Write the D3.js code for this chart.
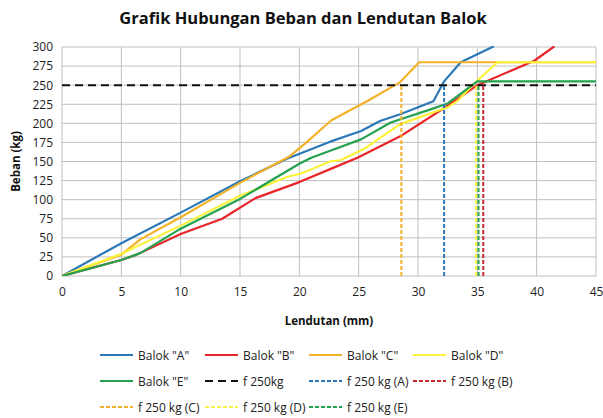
<!DOCTYPE html>
<html><head><meta charset="utf-8">
<script src="https://cdn.jsdelivr.net/npm/d3@7"></script>
<style>body{margin:0;background:#fff}svg{display:block}</style>
</head><body><div id="chart"></div>
<script>
const title = "Grafik Hubungan Beban dan Lendutan Balok";
const xLabel = "Lendutan (mm)";
const yLabel = "Beban (kg)";
const xTicks = [0,5,10,15,20,25,30,35,40,45];
const yTicks = [0,25,50,75,100,125,150,175,200,225,250,275,300];

const balokA = [[0,0],[5,43],[10,83],[15,124],[19,154],[22.6,176],[25.2,190],[26.8,203],[28.5,212],[31.3,229],[32.2,255],[33.6,280],[36.4,301]];
const balokB = [[0,0],[5,21],[6.3,28],[10,55],[13.5,75],[16.3,102],[20,123],[22.6,140],[24.9,155],[28.5,183],[32.5,223],[35,250],[39.8,282],[41.5,301]];
const balokC = [[0,0],[5,28],[6.6,48],[10,77],[15,122],[19.2,157],[20.6,175],[22.7,204],[25.7,229],[28.5,254],[30.1,280],[45,280]];
const balokD = [[0,0],[5,29],[10,66],[15,105],[19,130],[20.1,134],[22.6,150],[23.5,152],[25.4,166],[28.5,199],[32.5,221],[33.3,229],[35,256],[36.7,280],[45,280]];
const balokE = [[0,0],[5,21],[6.6,30],[10,62],[15,101],[20,147],[21,155],[22.6,164],[25.2,179],[27.7,201],[31,218],[32.5,226],[35,255],[45,255]];
const fLimit = 250;
const fA = 32.2, fB = 35.5, fC = 28.6, fD = 34.9, fE = 35.1;

const series = [
  {name:'Balok "A"', data:balokA, color:"#2b78b8"},
  {name:'Balok "B"', data:balokB, color:"#e8262a"},
  {name:'Balok "C"', data:balokC, color:"#f4b22a"},
  {name:'Balok "D"', data:balokD, color:"#fbf33a"},
  {name:'Balok "E"', data:balokE, color:"#24a24f"}
];
const verticals = [
  {name:"f 250 kg (A)", x:fA, color:"#2b78b8"},
  {name:"f 250 kg (B)", x:fB, color:"#c8282e"},
  {name:"f 250 kg (C)", x:fC, color:"#f4b22a"},
  {name:"f 250 kg (D)", x:fD, color:"#f6f24a"},
  {name:"f 250 kg (E)", x:fE, color:"#24a24f"}
];

const W=603,H=418;
const m={l:62,r:7,t:47,b:142};
const svg=d3.select("#chart").append("svg").attr("width",W).attr("height",H);
const x=d3.scaleLinear().domain([0,45]).range([m.l,W-m.r]);
const y=d3.scaleLinear().domain([0,300]).range([H-m.b,m.t]);
const font="'Open Sans', 'Liberation Sans', sans-serif";

// grid
const g=svg.append("g");
g.selectAll(".gy").data(yTicks).join("line").attr("x1",x(0)).attr("x2",x(45))
 .attr("y1",d=>y(d)).attr("y2",d=>y(d)).attr("stroke","#bfbfbf").attr("stroke-width",1);
g.selectAll(".gx").data(xTicks).join("line").attr("y1",y(0)).attr("y2",y(300))
 .attr("x1",d=>x(d)).attr("x2",d=>x(d)).attr("stroke","#bfbfbf").attr("stroke-width",1);

// axes
const xa=svg.append("g").attr("transform",`translate(0,${y(0)})`)
 .call(d3.axisBottom(x).tickValues(xTicks).tickSize(0).tickPadding(11));
const ya=svg.append("g").attr("transform",`translate(${x(0)},0)`)
 .call(d3.axisLeft(y).tickValues(yTicks).tickSize(0).tickPadding(9));
[xa,ya].forEach(a=>{a.select(".domain").remove();a.selectAll("text").attr("font-family",font).attr("font-size",12).attr("fill","#222");});

// clip
svg.append("clipPath").attr("id","clip").append("rect").attr("x",x(0)).attr("y",y(300)-1).attr("width",x(45)-x(0)).attr("height",y(0)-y(300)+1);

const line=d3.line().x(d=>x(d[0])).y(d=>y(d[1]));
const plot=svg.append("g").attr("clip-path","url(#clip)");

series.forEach(s=>{
  plot.append("path").datum(s.data).attr("d",line).attr("fill","none")
   .attr("stroke",s.color).attr("stroke-width",2.2).attr("stroke-linejoin","round");
});
plot.append("line").attr("x1",x(0)).attr("x2",x(45)).attr("y1",y(fLimit)).attr("y2",y(fLimit))
 .attr("stroke","#111").attr("stroke-width",2).attr("stroke-dasharray","8,5");
verticals.forEach(v=>{
  plot.append("line").attr("x1",x(v.x)).attr("x2",x(v.x)).attr("y1",y(0)).attr("y2",y(fLimit))
   .attr("stroke",v.color).attr("stroke-width",2).attr("stroke-dasharray","4,2");
});

// labels
svg.append("text").attr("x",303).attr("y",24).attr("text-anchor","middle")
 .attr("font-family",font).attr("font-weight","bold").attr("font-size",16.5).attr("fill","#111").text(title);
svg.append("text").attr("x",x(22.5)).attr("y",325).attr("text-anchor","middle")
 .attr("font-family",font).attr("font-weight","bold").attr("font-size",11.5).attr("fill","#111").text(xLabel);
svg.append("text").attr("transform",`translate(20,${(y(0)+y(300))/2}) rotate(-90)`).attr("text-anchor","middle")
 .attr("font-family",font).attr("font-weight","bold").attr("font-size",11.5).attr("fill","#111").text(yLabel);

// legend
const legendItems=[
  ...series.map(s=>({name:s.name,color:s.color,dash:null,w:2.2})),
  {name:"f 250kg",color:"#111",dash:"8,5",w:2},
  ...verticals.map(v=>({name:v.name,color:v.color,dash:"4,2",w:2}))
];
const colX=[100,205,309,413];
const rowY=[355,381,407];
legendItems.forEach((it,i)=>{
  const r=Math.floor(i/4), c=i%4;
  const lx=colX[c], ly=rowY[r];
  const lg=svg.append("g");
  lg.append("line").attr("x1",lx).attr("x2",lx+33).attr("y1",ly).attr("y2",ly)
    .attr("stroke",it.color).attr("stroke-width",it.w).attr("stroke-dasharray",it.dash);
  lg.append("text").attr("x",lx+38).attr("y",ly+4.5).attr("font-family",font).attr("font-size",12).attr("fill","#222").text(it.name);
});
</script></body></html>
